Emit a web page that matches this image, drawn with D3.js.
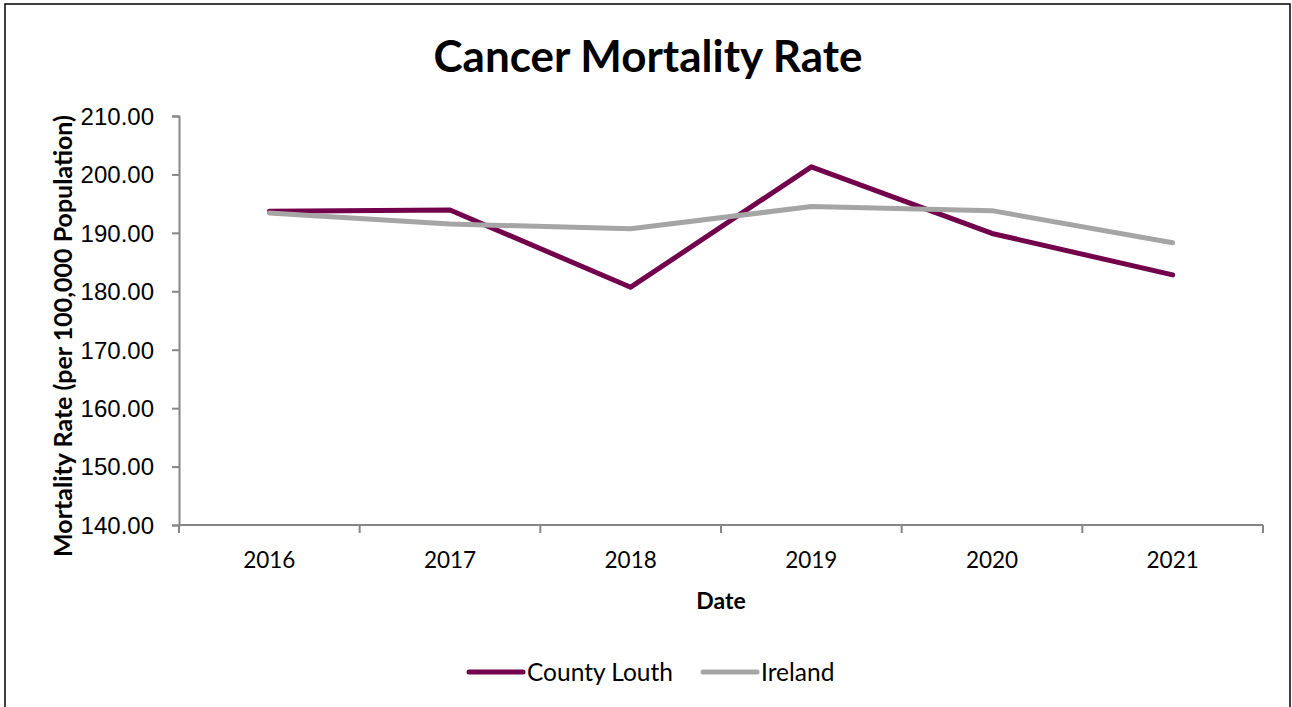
<!DOCTYPE html>
<html>
<head>
<meta charset="utf-8">
<script src="https://cdn.jsdelivr.net/npm/d3@7"></script>
<style>
  body { margin: 0; background: #fff; }
  svg { display: block; font-family: Lato, "Open Sans", sans-serif; }
</style>
</head>
<body>
<div id="chart"></div>
<script>
var years = ["2016", "2017", "2018", "2019", "2020", "2021"];
var louth = [193.7, 193.9, 180.7, 201.3, 189.9, 182.8];
var ireland = [193.4, 191.5, 190.7, 194.5, 193.8, 188.3];
var yTicks = [140, 150, 160, 170, 180, 190, 200, 210];

var width = 1292, height = 707;
var margin = {left: 179, right: 29, top: 116, bottom: 182};

var svg = d3.select("#chart").append("svg")
    .attr("width", width)
    .attr("height", height);

// chart frame
svg.append("rect")
    .attr("x", 5).attr("y", 4)
    .attr("width", 1285).attr("height", 720)
    .attr("fill", "#fff")
    .attr("stroke", "#000")
    .attr("stroke-width", 1.5);

var x = d3.scaleBand()
    .domain(years)
    .range([margin.left, width - margin.right]);

var y = d3.scaleLinear()
    .domain([140, 210])
    .range([height - margin.bottom, margin.top]);

var axisColor = "#868686";

// y axis
var yAxis = svg.append("g")
    .attr("transform", "translate(" + margin.left + ",0)")
    .call(d3.axisLeft(y).tickValues(yTicks).tickSize(7).tickPadding(18)
        .tickFormat(d3.format(".2f")));
yAxis.select(".domain").attr("stroke", axisColor).attr("stroke-width", 2);
yAxis.selectAll(".tick line").attr("stroke", axisColor).attr("stroke-width", 2);
yAxis.selectAll(".tick text")
    .attr("fill", "#000")
    .style("font-size", "24px")
    .attr("dy", "0.35em");

// x axis with ticks at band edges
var xAxis = svg.append("g")
    .attr("transform", "translate(0," + y(140) + ")");
xAxis.append("line")
    .attr("x1", margin.left).attr("x2", width - margin.right)
    .attr("stroke", axisColor).attr("stroke-width", 2);
var edges = years.map(function (d) {return x(d);}).concat([x(years[years.length - 1]) + x.bandwidth()]);
xAxis.selectAll(".edge")
    .data(edges)
    .enter()
    .append("line")
    .attr("x1", function (d) {return d;})
    .attr("x2", function (d) {return d;})
    .attr("y1", 0).attr("y2", 8)
    .attr("stroke", axisColor).attr("stroke-width", 2);
xAxis.selectAll(".lbl")
    .data(years)
    .enter()
    .append("text")
    .attr("x", function (d) {return x(d) + x.bandwidth() / 2;})
    .attr("y", 43)
    .attr("text-anchor", "middle")
    .style("font-size", "22.5px")
    .text(function (d) {return d;});

// titles
svg.append("text")
    .attr("x", 648).attr("y", 72)
    .attr("text-anchor", "middle")
    .style("font-size", "44px")
    .style("font-weight", "bold")
    .text("Cancer Mortality Rate");

svg.append("text")
    .attr("x", 721).attr("y", 609)
    .attr("text-anchor", "middle")
    .style("font-size", "23px")
    .style("font-weight", "bold")
    .text("Date");

svg.append("text")
    .attr("transform", "translate(72,336) rotate(-90)")
    .attr("text-anchor", "middle")
    .style("font-size", "25px")
    .style("font-weight", "bold")
    .text("Mortality Rate (per 100,000 Population)");

// lines
var series = [
    {name: "County Louth", values: louth, color: "#72004A"},
    {name: "Ireland", values: ireland, color: "#A5A5A5"}
];

var line = d3.line()
    .x(function (d, i) {return x(years[i]) + x.bandwidth() / 2;})
    .y(function (d) {return y(d);});

svg.selectAll(".series")
    .data(series)
    .enter()
    .append("path")
    .attr("class", "series")
    .attr("d", function (d) {return line(d.values);})
    .attr("fill", "none")
    .attr("stroke", function (d) {return d.color;})
    .attr("stroke-width", 5)
    .attr("stroke-linecap", "round")
    .attr("stroke-linejoin", "round");

// legend
var legendX = [469, 703];
var legend = svg.selectAll(".legend")
    .data(series)
    .enter()
    .append("g")
    .attr("class", "legend")
    .attr("transform", function (d, i) {return "translate(" + legendX[i] + ",672)";});
legend.append("line")
    .attr("x1", 0).attr("x2", 54)
    .attr("stroke", function (d) {return d.color;})
    .attr("stroke-width", 5)
    .attr("stroke-linecap", "round");
legend.append("text")
    .attr("x", 58)
    .attr("dy", "0.35em")
    .style("font-size", "24.5px")
    .text(function (d) {return d.name;});
</script>
</body>
</html>
